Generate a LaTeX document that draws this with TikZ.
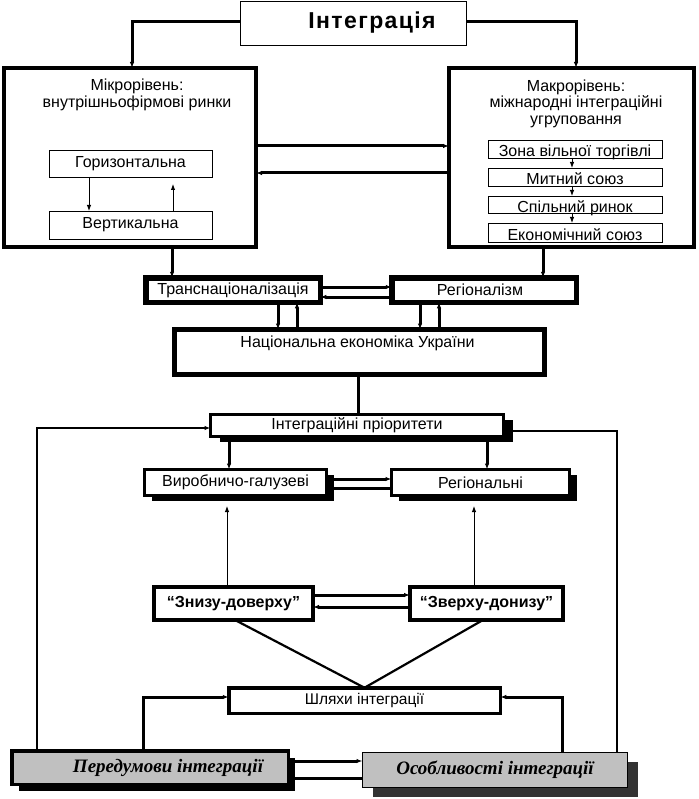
\documentclass[tikz,border=0pt]{standalone}
\usepackage{fontspec}
\setmainfont{Liberation Sans}
\newfontfamily\tnr{Liberation Serif}
\usetikzlibrary{arrows.meta,shadows,calc}
\definecolor{boxgray}{HTML}{C0C0C0}
\definecolor{darkshadow}{HTML}{333333}
\begin{document}
\begin{tikzpicture}[x=1pt,y=-1pt,
  every node/.style={inner sep=0pt, outer sep=0pt},
  box/.style={draw, rectangle, fill=white},
  ar/.style={-{Latex[length=6pt,width=4.5pt]}},
  thk/.style={line width=3pt},
  mid/.style={line width=2.2pt},
  thn/.style={line width=0.9pt},
  txt/.style={font=\fontsize{16}{16}\selectfont},
  mtxt/.style={font=\fontsize{16}{16.5}\selectfont, align=center},
  btxt/.style={font=\bfseries\fontsize{16}{16}\selectfont},
  itxt/.style={font=\tnr\bfseries\itshape\fontsize{19}{19}\selectfont},
  shad/.style 2 args={drop shadow={shadow xshift=#1pt, shadow yshift=-#2pt, opacity=1, fill=black}},
]
\useasboundingbox (0,0) rectangle (698,799);
\fill[white] (0,0) rectangle (698,799);

% ---------- title ----------
\node[box, line width=1.2pt, minimum width=226pt, minimum height=44pt,
      font=\bfseries\fontsize{23}{23}\selectfont, text height=16pt, text depth=5pt]
      (title) at (353.5,23.5) {\hspace*{37pt}\addfontfeature{LetterSpace=6}Інтеграція};

% ---------- micro level ----------
\node[box, line width=4pt, minimum width=252pt, minimum height=179pt] (micro) at (130,157.5) {};
\node[mtxt] (microtxt) at (137,95) {Мікрорівень:\\внутрішньофірмові ринки};
\node[box, thn, minimum width=163pt, minimum height=27pt, txt] (horiz) at (130.5,163.5) {Горизонтальна};
\node[box, thn, minimum width=163pt, minimum height=28pt, txt] (vert) at (130.5,225) {Вертикальна};

% ---------- macro level ----------
\node[box, line width=4pt, minimum width=245pt, minimum height=179pt] (macro) at (571.5,157.5) {};
\node[mtxt] (macrotxt) at (576,103.5) {Макрорівень:\\міжнародні інтеграційні\\угруповання};
\node[box, thn, minimum width=174pt, minimum height=18pt, txt, text height=16pt, text depth=0pt] (zona) at (575,149) {Зона вільної торгівлі};
\node[box, thn, minimum width=174pt, minimum height=18pt, txt, text height=16pt, text depth=0pt] (mytn) at (575,177) {Митний союз};
\node[box, thn, minimum width=174pt, minimum height=17pt, txt, text height=16pt, text depth=0pt] (spil) at (575,204.5) {Спільний ринок};
\node[box, thn, minimum width=174pt, minimum height=19pt, txt, text height=17pt, text depth=0pt] (ekon) at (575,232.5) {Економічний союз};

% ---------- transnationalisation / regionalism ----------
\node[box, line width=5.5pt, minimum width=174.5pt, minimum height=24.5pt, txt] (transn) at (233,290) {Транснаціоналізація};
\node[box, line width=5.5pt, minimum width=184.5pt, minimum height=24.5pt, txt] (region) at (484,290) {\hspace*{-8pt}Регіоналізм};
\node[box, line width=5pt, minimum width=370pt, minimum height=45pt, txt, text height=11pt, text depth=21pt] (nat) at (359.5,352) {\hspace*{-4pt}Національна економіка України};

% ---------- priorities ----------
\node[box, line width=3pt, minimum width=293pt, minimum height=22pt, txt, shad={9}{5.5}] (prio) at (357,425.5) {Інтеграційні пріоритети};
\node[box, line width=3pt, minimum width=182pt, minimum height=26pt, txt, shad={7}{5}] (vyrob) at (235.5,482.5) {Виробничо-галузеві};
\node[box, line width=3pt, minimum width=178pt, minimum height=26pt, txt, shad={7}{5}] (regn) at (480.5,482.5) {Регіональні};

% ---------- bottom-up / top-down ----------
\node[box, line width=4pt, minimum width=159pt, minimum height=33pt, btxt] (znyzu) at (233.5,603.5) {“Знизу-доверху”};
\node[box, line width=4pt, minimum width=153pt, minimum height=33pt, btxt] (zverhu) at (486.5,603.5) {“Зверху-донизу”};
\node[box, line width=3.5pt, minimum width=271.5pt, minimum height=25.5pt, font=\fontsize{15.5}{15.5}\selectfont] (shlyakh) at (364.5,700.5) {Шляхи інтеграції};

% ---------- bottom boxes ----------
\node[draw, line width=3.5pt, fill=boxgray, minimum width=276.5pt, minimum height=33.5pt, itxt, shad={7}{7}] (pered) at (150,767.5) {\hspace*{36pt}Передумови інтеграції};
\node[draw, line width=1pt, fill=boxgray, minimum width=265pt, minimum height=35pt, itxt,
      drop shadow={shadow xshift=10pt, shadow yshift=-9.5pt, opacity=1, fill=darkshadow}] (osob) at (495,770) {Особливості інтеграції};

\coordinate (tipL) at (227,506);
\coordinate (tipR) at (474,506);

% ---------- connectors ----------
\draw[thk, ar] (title.west |- 0,22) -| ([xshift=2pt]micro.north);
\draw[thk, ar] (title.east |- 0,22) -| ([xshift=4.5pt]macro.north);

\draw[thn, ar] ([xshift=-41.5pt]horiz.south) -- ([xshift=-41.5pt]vert.north);
\draw[thn, ar] ([xshift=42.5pt]vert.north) -- ([xshift=42.5pt,yshift=-7pt]horiz.south);

\draw[thk, ar] (micro.east |- 0,146) -- (macro.west |- 0,146);
\draw[thk, ar] (macro.west |- 0,173) -- (micro.east |- 0,173);

\draw[thn, ar] ([xshift=-3pt]zona.south) -- ([xshift=-3pt]mytn.north);
\draw[thn, ar] ([xshift=-3pt]mytn.south) -- ([xshift=-3pt]spil.north);
\draw[thn, ar] ([xshift=-3pt]spil.south) -- ([xshift=-3pt]ekon.north);

\draw[thk, ar] ([xshift=42pt]micro.south) -- ([xshift=42pt]micro.south |- transn.north);
\draw[thk, ar] ([xshift=-28.5pt]macro.south) -- ([xshift=-28.5pt]macro.south |- region.north);

\draw[thk, ar] (transn.east |- 0,287) -- (region.west |- 0,287);
\draw[thk, ar] (region.west |- 0,297) -- (transn.east |- 0,297);

\draw[thk, ar] ([xshift=45pt]transn.south) -- ([xshift=45pt]transn.south |- nat.north);
\draw[thk, ar] ([xshift=64pt]transn.south |- nat.north) -- ([xshift=64pt]transn.south);
\draw[thk, ar] ([xshift=-64pt]region.south) -- ([xshift=-64pt]region.south |- nat.north);
\draw[thk, ar] ([xshift=-45pt]region.south |- nat.north) -- ([xshift=-45pt]region.south);

\draw[thk] ([xshift=-1.5pt]nat.south) -- ([xshift=-1.5pt]nat.south |- prio.north);

\draw[thk, ar] ([xshift=-128pt]prio.south) -- ([xshift=-128pt]prio.south |- vyrob.north);
\draw[thk, ar] ([xshift=130pt]prio.south) -- ([xshift=130pt]prio.south |- regn.north);

\draw[thk, ar] (vyrob.east |- 0,479) -- (regn.west |- 0,479);
\draw[thk] (regn.west |- 0,488) -- (vyrob.east |- 0,488);

\draw[thn, ar] (znyzu.north -| tipL) -- (tipL);
\draw[thn, ar] (zverhu.north -| tipR) -- (tipR);

\draw[thk, ar] (znyzu.east |- 0,595) -- (zverhu.west |- 0,595);
\draw[thk, ar] (zverhu.west |- 0,607) -- (znyzu.east |- 0,607);

\draw[mid] ([xshift=1.5pt]znyzu.south) -- (shlyakh.north);
\draw[mid] ([xshift=-3.5pt]zverhu.south) -- (shlyakh.north);

\draw[thk, ar] ([xshift=-7pt]pered.north) |- ([yshift=3.5pt]shlyakh.west);
\draw[thk, ar] ([xshift=67pt]osob.north) |- ([yshift=3.5pt]shlyakh.east);

\draw[line width=2.5pt, ar] ([xshift=-113pt]pered.north) |- ([yshift=-2.5pt]prio.west);
\draw[line width=2.5pt] ([xshift=122pt]osob.north) |- ([xshift=9pt,yshift=-5.5pt]prio.east);

\draw[thk, ar] (pered.east |- 0,761) -- (osob.west |- 0,761);
\draw[thk] (osob.west |- 0,778) -- (pered.east |- 0,778);
\end{tikzpicture}
\end{document}
